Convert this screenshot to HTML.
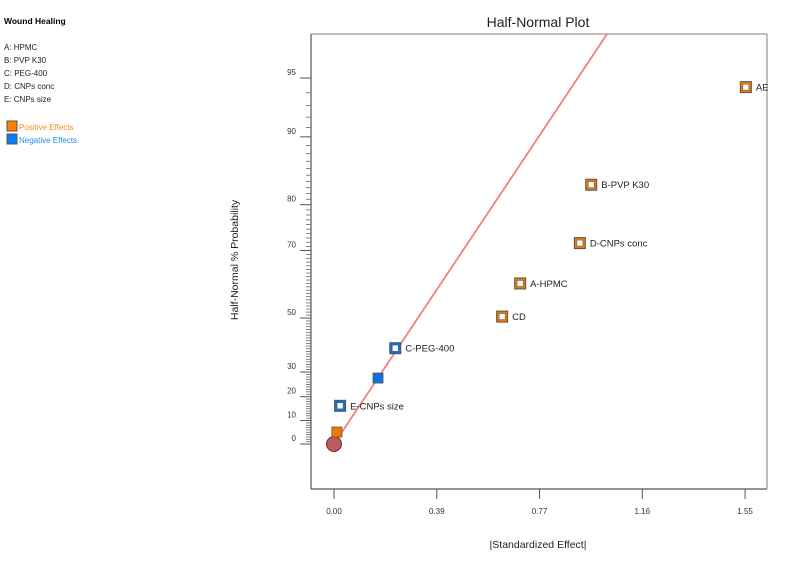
<!DOCTYPE html>
<html><head><meta charset="utf-8">
<style>
body{margin:0;background:#fff;width:807px;height:567px;overflow:hidden;font-family:"Liberation Sans",sans-serif}
svg text{font-family:"Liberation Sans",sans-serif}
</style></head><body>
<svg id="chart" width="807" height="567" xmlns="http://www.w3.org/2000/svg">
<g>
<text x="4" y="24" font-size="8.5" font-weight="bold" fill="#000">Wound Healing</text>
<text x="4" y="50" font-size="8" fill="#222">A: HPMC</text>
<text x="4" y="63" font-size="8" fill="#222">B: PVP K30</text>
<text x="4" y="76" font-size="8" fill="#222">C: PEG-400</text>
<text x="4" y="89" font-size="8" fill="#222">D: CNPs conc</text>
<text x="4" y="102" font-size="8" fill="#222">E: CNPs size</text>
<rect x="7" y="121" width="10" height="10" fill="#ff7f00" stroke="#555" stroke-width="1"/>
<text x="19" y="130" font-size="8" fill="#ff8c1a">Positive Effects</text>
<rect x="7" y="134" width="10" height="10" fill="#0a7cf0" stroke="#555" stroke-width="1"/>
<text x="19" y="143" font-size="8" fill="#1a8cff">Negative Effects</text>
</g>
<text x="538" y="27" font-size="14" text-anchor="middle" fill="#222">Half-Normal Plot</text>
<text transform="translate(238,260) rotate(-90)" font-size="10.5" text-anchor="middle" fill="#222">Half-Normal % Probability</text>
<text x="538" y="548" font-size="10.5" text-anchor="middle" fill="#222">|Standardized Effect|</text>
<g id="plot"></g>
</svg>
<script>
const effectNames = ["", "", "E-CNPs size", "", "C-PEG-400", "CD", "A-HPMC", "D-CNPs conc", "B-PVP K30", "AE"];
const effectValues = [0.0, 0.011, 0.023, 0.166, 0.231, 0.634, 0.702, 0.927, 0.970, 1.553];
const probValues = [0, 5.1, 16.2, 27.6, 39.2, 50.5, 61.0, 71.8, 83.5, 94.4];
const effectSigns = ["err", "pos", "neg", "neg", "neg", "pos", "pos", "pos", "pos", "pos"];
const labeled = [false, false, true, false, true, true, true, true, true, true];
const xTicks = [0, 0.3875, 0.775, 1.1625, 1.55];
const xTickLabels = ["0.00", "0.39", "0.77", "1.16", "1.55"];
const yMajor = [0, 10, 20, 30, 50, 70, 80, 90, 95];
const lineSlope = [0.469];

const NS = "http://www.w3.org/2000/svg";
const plot = document.getElementById('plot');
function erf(x){const t=1/(1+0.3275911*Math.abs(x));const y=1-(((((1.061405429*t-1.453152027)*t)+1.421413741)*t-0.284496736)*t+0.254829592)*t*Math.exp(-x*x);return x>=0?y:-y;}
function hnz(p){let lo=0,hi=5;for(let i=0;i<60;i++){const m=(lo+hi)/2;if(erf(m/Math.SQRT2)*100<p)lo=m;else hi=m;}return (lo+hi)/2;}
const X0=334, XS=265.2, Y0=444, YS=366/hnz(95);
function xs(v){return X0+v*XS;}
function ys(p){return Y0-hnz(p)*YS;}
function ysz(z){return Y0-z*YS;}
function mk(tag,attrs){const e=document.createElementNS(NS,tag);for(const k in attrs)e.setAttribute(k,attrs[k]);plot.appendChild(e);return e;}
const L=311,T=34,R=767,B=489;
let e;
e=mk('line',{x1:L,y1:T,x2:R,y2:T,stroke:'#aaa','stroke-width':1.5});


e=mk('line',{x1:R,y1:T,x2:R,y2:B,stroke:'#aaa','stroke-width':1.5});


e=mk('line',{x1:L,y1:T,x2:L,y2:B,stroke:'#555','stroke-width':1.2});


e=mk('line',{x1:L,y1:B,x2:R,y2:B,stroke:'#555','stroke-width':1.2});


for(let p=1;p<95;p++){if(yMajor.includes(p))continue;const y=ys(p);
 e=mk('line',{x1:L-5,y1:y,x2:L,y2:y,stroke:'#666','stroke-width':0.8});
 
 }
yMajor.forEach(p=>{const y=ys(p);
 e=mk('line',{x1:L-11,y1:y,x2:L,y2:y,stroke:'#555','stroke-width':1});
 
 
 e=mk('text',{x:296,y:y-3,'font-size':8,'text-anchor':'end',fill:'#333'});e.textContent=String(p);
 
 });
xTicks.forEach((v,i)=>{const x=xs(v);
 e=mk('line',{x1:x,y1:B,x2:x,y2:B+10,stroke:'#555','stroke-width':1});
 
 
 e=mk('text',{x:x,y:514,'font-size':8,'text-anchor':'middle',fill:'#333'});e.textContent=xTickLabels[i];
 
 });
// reference line
const zTop=(Y0-T)/YS;
e=mk('line',{x1:xs(0),y1:ysz(0),x2:xs(lineSlope[0]*zTop),y2:T,stroke:'#f47c7c','stroke-width':1.8});


effectValues.forEach((v,i)=>{const x=xs(v),y=ys(probValues[i]);const s=effectSigns[i];
 if(s==='err'){e=mk('circle',{cx:x,cy:y,r:7.5,fill:'#bd5a5a',stroke:'#6b3030','stroke-width':1});
  
  return;}
 const col=s==='pos'?'#f07800':'#0a72e0';
 if(labeled[i]){
  e=mk('rect',{x:x-5.5,y:y-5.5,width:11,height:11,fill:col,stroke:'#555','stroke-width':1});
  
  
  e=mk('rect',{x:x-3,y:y-3,width:6,height:6,fill:'#fff',stroke:'#666','stroke-width':0.6});
  
  
  e=mk('text',{x:x+10,y:y+3.5,'font-size':9.5,fill:'#222'});e.textContent=effectNames[i];
  
  
 } else {
  e=mk('rect',{x:x-5,y:y-5,width:10,height:10,fill:col,stroke:'#555','stroke-width':0.8});
  
  
 }});
</script>
</body></html>
